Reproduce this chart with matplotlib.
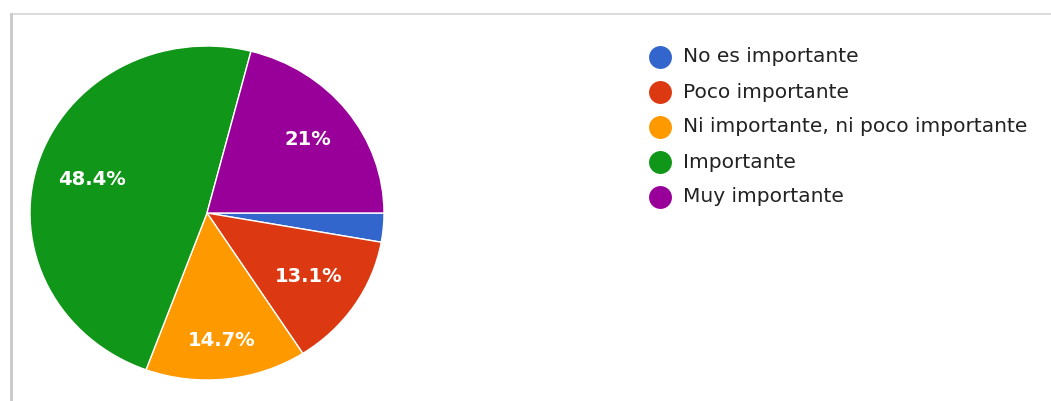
import numpy as np
import matplotlib.pyplot as plt
from matplotlib.lines import Line2D

# datos de la encuesta
categorias = ["No es importante", "Poco importante", "Ni importante, ni poco importante",
              "Importante", "Muy importante"]
porcentajes = [2.8, 13.1, 14.7, 48.4, 21.0]
colores = ["#3366cc", "#dc3912", "#ff9900", "#109618", "#990099"]
# distancia de cada etiqueta al centro (fraccion del radio)
dist_etiq = [0.7, 0.69, 0.77, 0.68, 0.72]

plt.rcParams['font.family'] = ['DejaVu Sans']

W, H = 1051, 401
fig = plt.figure(figsize=(W / 100, H / 100), dpi=100)
fig.patch.set_facecolor("white")

""" borde del recuadro """
fig.add_artist(Line2D([11 / W, 1], [1 - 14 / H, 1 - 14 / H], color="#dcdcdc", lw=1.5,
                      transform=fig.transFigure))
fig.add_artist(Line2D([11 / W, 11 / W], [0, 1 - 14 / H], color="#c8c8c8", lw=2,
                      transform=fig.transFigure))

""" torta """
x0, x1, y0, y1 = 30, 384, 46, 380
ax = fig.add_axes([x0 / W, 1 - y1 / H, (x1 - x0) / W, (y1 - y0) / H])


def etiqueta(p):
    if p < 5:
        return ""
    return "%g%%" % round(p, 1)


wedges, textos, autotextos = ax.pie(
    porcentajes, colors=colores, startangle=0, counterclock=False,
    autopct=etiqueta, pctdistance=0.7,
    wedgeprops=dict(edgecolor="white", linewidth=1),
    textprops=dict(color="white", fontsize=14, fontweight="bold"))
for w, t, d in zip(wedges, autotextos, dist_etiq):
    ang = np.deg2rad((w.theta1 + w.theta2) / 2)
    t.set_position((d * np.cos(ang), d * np.sin(ang)))
ax.set_aspect("auto")
ax.set_xlim(-1, 1)
ax.set_ylim(-1, 1)
ax.axis("off")

""" leyenda """
lg = fig.add_axes([0, 0, 1, 1])
lg.set_xlim(0, W)
lg.set_ylim(H, 0)
lg.axis("off")
for i, (cat, col) in enumerate(zip(categorias, colores)):
    yy = 57 + 35 * i
    lg.plot([660], [yy], "o", color=col, markersize=16.5, markeredgewidth=0)
    lg.text(683, yy, cat, fontsize=14.5, color="#222222", va="center", ha="left")

plt.savefig("out.png", dpi=100)
plt.close()
